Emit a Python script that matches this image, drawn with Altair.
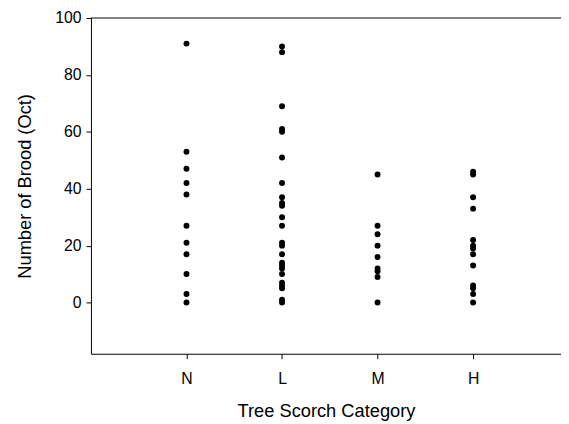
import altair as alt
import pandas as pd

categories = ["N", "L", "M", "H"]
brood_N = [91, 53, 47, 42, 38, 27, 21, 17, 10, 3, 0]
brood_L = [90, 88, 69, 61, 60, 51, 42, 37, 35, 34, 30, 27, 21, 20, 17, 14, 13, 12, 10, 7, 6, 5, 1, 0]
brood_M = [45, 27, 24, 20, 16, 12, 11, 9, 0]
brood_H = [46, 45, 37, 33, 22, 20, 19, 17, 13, 6, 5, 3, 0]
y_ticks = [0, 20, 40, 60, 80, 100]
y_domain = [-18, 100]
x_domain = [0, 4.92]

rows = []
for i, (cat, vals) in enumerate(zip(categories, [brood_N, brood_L, brood_M, brood_H])):
    for v in vals:
        rows.append({"cat": cat, "pos": i + 1, "brood": v})
df = pd.DataFrame(rows)

label_expr = " : ".join(
    [f"datum.value == {i + 1} ? '{c}'" for i, c in enumerate(categories)]
) + " : ''"

FONT = "Arial, Liberation Sans, sans-serif"

points = alt.Chart(df).mark_circle(size=36, color="black", opacity=1).encode(
    x=alt.X(
        "pos:Q",
        scale=alt.Scale(domain=x_domain, nice=False, zero=False),
        axis=alt.Axis(
            title="Tree Scorch Category",
            values=[1, 2, 3, 4],
            labelExpr=label_expr,
            grid=False,
            tickSize=5,
            labelPadding=12,
            titlePadding=15.5,
            labelFontSize=16,
            titleFontSize=18.5,
            titleFontWeight="normal",
            labelFont=FONT,
            titleFont=FONT,
            labelColor="black",
            titleColor="black",
            domainColor="black",
            tickColor="black",
        ),
    ),
    y=alt.Y(
        "brood:Q",
        scale=alt.Scale(domain=y_domain, nice=False, zero=False),
        axis=alt.Axis(
            title="Number of Brood (Oct)",
            values=y_ticks,
            grid=False,
            tickSize=5,
            labelPadding=5,
            titlePadding=21,
            labelFontSize=16,
            titleFontSize=18.5,
            titleFontWeight="normal",
            labelFont=FONT,
            titleFont=FONT,
            labelColor="black",
            titleColor="black",
            domainColor="black",
            tickColor="black",
        ),
    ),
)

top_line = alt.Chart(pd.DataFrame({"y": [y_domain[1]]})).mark_rule(color="black", strokeWidth=1).encode(
    y=alt.Y("y:Q", scale=alt.Scale(domain=y_domain, nice=False, zero=False))
)

chart = (
    alt.layer(points, top_line)
    .properties(
        width=476,
        height=340,
        autosize=alt.AutoSizeParams(type="none"),
        padding={"left": 84, "top": 7.5, "right": 0, "bottom": 68},
    )
    .configure_view(stroke=None)
)

chart.save("out.html", embed_options={"renderer": "svg", "actions": False})
